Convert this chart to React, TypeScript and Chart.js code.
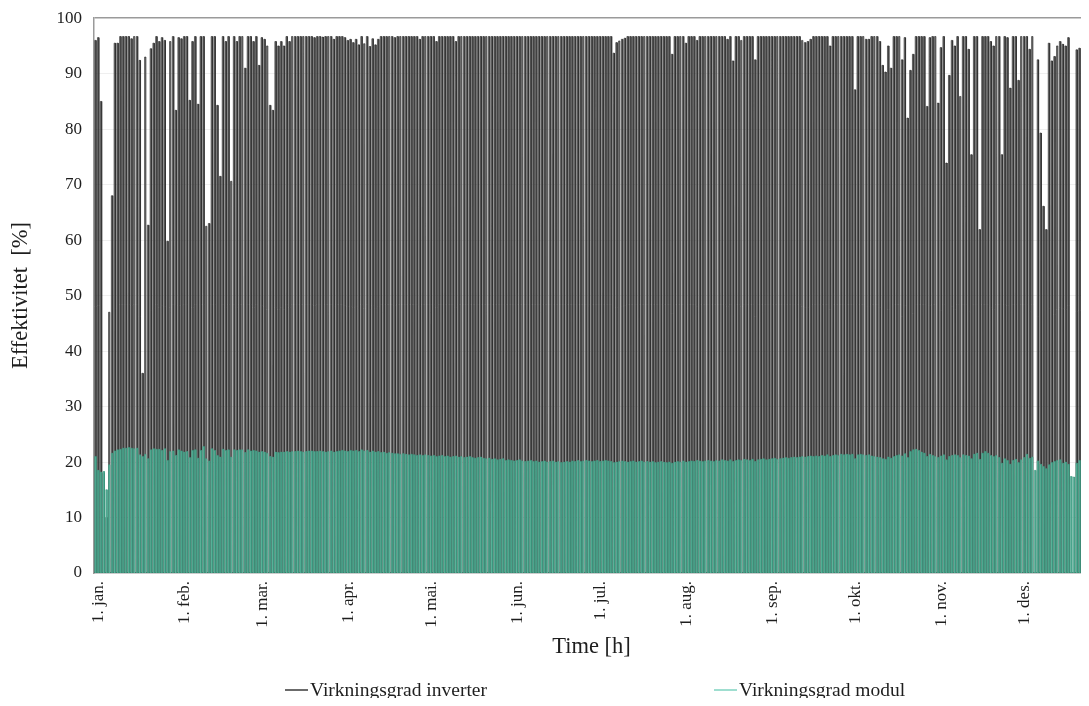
import React, { useEffect, useRef } from "react";
import { Chart, registerables } from "chart.js";

Chart.register(...registerables);

const FONT = "'Liberation Serif', 'Times New Roman', serif";

const MONTH_LABELS = [
  "1. jan.", "1. feb.", "1. mar.", "1. apr.", "1. mai.", "1. jun.",
  "1. jul.", "1. aug.", "1. sep.", "1. okt.", "1. nov.", "1. des.",
];
const MONTH_START_HOURS = [0, 744, 1416, 2160, 2880, 3624, 4344, 5088, 5832, 6552, 7296, 8016];
const Y_TICKS = [0, 10, 20, 30, 40, 50, 60, 70, 80, 90, 100];
const X_MAX_HOURS = 8615;

// hour-of-day at which production starts / reaches peak / leaves peak / stops
const DAY_PROFILE_HOURS = [5, 6, 18, 19];

const SERIES_NAMES = ["Virkningsgrad inverter", "Virkningsgrad modul"];

// daily peak efficiency of the inverter [%], 1 jan .. 31 des
const INVERTER_DAILY = [
  96.0, 96.5, 85.0, 18.0, 10.0, 47.0, 68.0, 95.5, 95.5, 96.7,
  96.7, 96.7, 96.7, 96.3, 96.7, 96.7, 92.4, 36.0, 93.0, 62.7,
  94.5, 95.5, 96.7, 95.8, 96.5, 96.0, 59.8, 95.8, 96.7, 83.4,
  96.5, 96.3, 96.7, 96.7, 85.2, 95.8, 96.7, 84.5, 96.7, 96.7,
  62.5, 63.0, 96.7, 96.7, 84.3, 71.5, 96.7, 95.8, 96.7, 70.6,
  96.7, 95.8, 96.7, 96.7, 91.0, 96.7, 96.7, 95.8, 96.7, 91.5,
  96.5, 96.2, 95.0, 84.3, 83.4, 95.8, 95.0, 95.8, 95.0, 96.7,
  95.8, 96.7, 96.7, 96.7, 96.7, 96.7, 96.7, 96.7, 96.7, 96.5,
  96.7, 96.7, 96.6, 96.7, 96.7, 96.7, 96.2, 96.7, 96.7, 96.7,
  96.5, 96.0, 96.2, 95.6, 96.2, 95.2, 96.7, 95.4, 96.7, 94.9,
  96.3, 95.2, 96.2, 96.7, 96.7, 96.7, 96.7, 96.7, 96.5, 96.7,
  96.7, 96.7, 96.7, 96.7, 96.7, 96.7, 96.7, 96.2, 96.7, 96.7,
  96.7, 96.7, 96.7, 95.8, 96.7, 96.7, 96.7, 96.7, 96.7, 96.7,
  95.8, 96.7, 96.7, 96.7, 96.7, 96.7, 96.7, 96.7, 96.7, 96.7,
  96.7, 96.7, 96.7, 96.7, 96.7, 96.7, 96.7, 96.7, 96.7, 96.7,
  96.7, 96.7, 96.7, 96.7, 96.7, 96.7, 96.7, 96.7, 96.7, 96.7,
  96.7, 96.7, 96.7, 96.7, 96.7, 96.7, 96.7, 96.7, 96.7, 96.7,
  96.7, 96.7, 96.7, 96.7, 96.7, 96.7, 96.7, 96.7, 96.7, 96.7,
  96.7, 96.7, 96.7, 96.7, 96.7, 96.7, 96.7, 93.7, 95.6, 95.9,
  96.2, 96.4, 96.7, 96.7, 96.7, 96.7, 96.7, 96.7, 96.7, 96.7,
  96.7, 96.7, 96.7, 96.7, 96.7, 96.7, 96.7, 96.7, 93.5, 96.7,
  96.7, 96.7, 96.7, 95.5, 96.7, 96.7, 96.7, 96.0, 96.7, 96.7,
  96.7, 96.7, 96.7, 96.7, 96.7, 96.7, 96.7, 96.7, 96.2, 96.7,
  92.3, 96.7, 96.7, 96.0, 96.7, 96.7, 96.7, 96.7, 92.5, 96.7,
  96.7, 96.7, 96.7, 96.7, 96.7, 96.7, 96.7, 96.7, 96.7, 96.7,
  96.7, 96.7, 96.7, 96.7, 96.7, 96.0, 95.6, 95.8, 96.2, 96.7,
  96.7, 96.7, 96.7, 96.7, 96.7, 95.0, 96.7, 96.7, 96.7, 96.7,
  96.7, 96.7, 96.7, 96.7, 87.1, 96.7, 96.7, 96.7, 96.2, 96.2,
  96.7, 96.7, 96.7, 95.8, 91.5, 90.3, 95.0, 91.0, 96.7, 96.7,
  96.7, 92.5, 96.5, 82.0, 90.6, 93.5, 96.7, 96.7, 96.7, 96.7,
  84.1, 96.5, 96.7, 96.7, 84.7, 94.7, 96.7, 73.9, 89.7, 96.0,
  95.0, 96.7, 85.9, 96.7, 96.7, 94.4, 75.4, 96.7, 96.7, 61.9,
  96.7, 96.7, 96.7, 95.8, 95.0, 96.7, 96.7, 75.4, 96.7, 96.5,
  87.4, 96.7, 96.7, 88.8, 96.7, 96.7, 96.7, 94.4, 96.7, 0.0,
  92.5, 79.3, 66.1, 61.9, 95.5, 92.3, 93.1, 95.0, 95.8, 95.3,
  95.0, 96.5, 0.0, 0.0, 94.3, 94.6, 95.5, 96.0, 44.0, 60.0,
  90.0, 95.0, 96.0, 80.0, 95.0,
];

// daily peak efficiency of the PV module [%]
const MODULE_DAILY = [
  21.0, 18.5, 18.2, 18.3, 15.0, 19.5, 21.6, 22.0, 22.2, 22.3,
  22.5, 22.5, 22.6, 22.5, 22.4, 22.5, 21.3, 21.0, 21.4, 20.6,
  22.2, 22.4, 22.3, 22.3, 22.1, 22.4, 20.3, 21.9, 22.0, 21.2,
  22.2, 22.0, 21.8, 21.9, 20.8, 22.1, 22.2, 20.7, 22.1, 22.8,
  20.6, 20.2, 22.4, 22.1, 21.2, 20.9, 22.3, 22.1, 22.2, 20.9,
  22.2, 22.1, 22.2, 22.2, 21.7, 22.2, 22.0, 22.1, 22.0, 21.8,
  21.9, 21.8, 21.6, 21.0, 20.9, 21.8, 21.7, 21.8, 21.8, 21.9,
  21.8, 21.9, 21.9, 22.0, 21.9, 21.8, 21.9, 22.0, 22.0, 21.9,
  21.9, 22.0, 21.9, 21.8, 21.9, 22.0, 21.8, 21.9, 22.0, 22.1,
  22.0, 21.9, 22.1, 22.0, 22.1, 21.9, 22.2, 22.0, 22.1, 21.8,
  22.0, 21.8, 21.9, 21.7, 21.8, 21.6, 21.7, 21.6, 21.5, 21.5,
  21.4, 21.5, 21.4, 21.3, 21.4, 21.3, 21.2, 21.3, 21.2, 21.3,
  21.2, 21.1, 21.2, 21.0, 21.1, 21.2, 21.0, 21.1, 20.9, 21.0,
  21.1, 20.9, 21.0, 20.8, 20.9, 21.0, 20.8, 20.7, 20.8, 20.9,
  20.7, 20.6, 20.7, 20.5, 20.6, 20.4, 20.5, 20.6, 20.3, 20.4,
  20.3, 20.2, 20.3, 20.4, 20.2, 20.1, 20.2, 20.3, 20.1, 20.2,
  20.0, 20.1, 20.2, 20.0, 20.1, 20.2, 20.0, 20.1, 19.9, 20.0,
  20.1, 20.0, 20.2, 20.1, 20.3, 20.1, 20.2, 20.3, 20.2, 20.1,
  20.2, 20.3, 20.1, 20.2, 20.3, 20.2, 20.1, 19.9, 20.0, 20.1,
  20.2, 20.1, 20.0, 20.1, 20.2, 20.0, 20.1, 20.2, 20.0, 20.1,
  20.0, 20.1, 19.9, 20.0, 20.1, 20.0, 19.9, 20.0, 19.8, 20.0,
  20.1, 20.0, 20.2, 20.0, 20.1, 20.2, 20.1, 20.3, 20.2, 20.1,
  20.2, 20.3, 20.2, 20.1, 20.3, 20.2, 20.4, 20.3, 20.2, 20.4,
  20.1, 20.3, 20.4, 20.3, 20.5, 20.4, 20.3, 20.5, 20.1, 20.4,
  20.5, 20.6, 20.4, 20.5, 20.6, 20.7, 20.5, 20.6, 20.7, 20.8,
  20.7, 20.8, 20.9, 20.8, 20.9, 21.0, 20.9, 21.0, 21.1, 21.0,
  21.1, 21.0, 21.2, 21.1, 21.3, 21.0, 21.2, 21.3, 21.2, 21.4,
  21.3, 21.4, 21.3, 21.4, 20.6, 21.3, 21.4, 21.3, 21.2, 21.3,
  21.1, 21.0, 20.9, 20.8, 20.6, 20.5, 20.9, 20.7, 21.0, 21.2,
  21.3, 21.1, 21.5, 20.8, 21.9, 22.2, 22.3, 22.1, 21.8, 21.6,
  21.0, 21.4, 21.2, 21.0, 20.8, 21.1, 21.3, 20.4, 21.0, 21.2,
  21.3, 21.2, 20.8, 21.3, 21.2, 21.1, 20.6, 21.4, 21.6, 20.5,
  21.6, 21.9, 21.6, 21.2, 21.0, 21.2, 20.8, 19.8, 20.6, 20.3,
  19.6, 20.3, 20.5, 19.9, 20.4, 20.8, 21.4, 20.7, 20.9, 18.5,
  20.2, 19.6, 19.2, 18.8, 19.5, 19.9, 20.1, 20.3, 20.4, 19.8,
  20.0, 19.6, 17.4, 17.3, 19.8, 20.3, 20.5, 20.2, 17.0, 18.5,
  19.8, 20.2, 20.4, 19.0, 20.0,
];

const COLORS = {
  inverterLine: "#262626",
  inverterFill: "#747474",
  moduleLine: "#3a9880",
  moduleFill: "#66bca4",
  legendInverter: "#3a3a3a",
  legendModule: "#7fd3c1",
  axis: "#9a9a9a",
  grid: "#efefef",
  text: "#1e1e1e",
};

function dailyToHourly(peaks: number[]) {
  const [rise, on, off, set] = DAY_PROFILE_HOURS;
  const pts: { x: number; y: number }[] = [];
  peaks.forEach((p, d) => {
    const h = d * 24;
    pts.push({ x: h + rise, y: 0 }, { x: h + on, y: p }, { x: h + off, y: p }, { x: h + set, y: 0 });
  });
  return pts;
}

const legendPlugin = {
  id: "customLegend",
  afterDraw(chart: any) {
    const ctx = chart.ctx;
    ctx.save();
    ctx.font = `19.5px ${FONT}`;
    ctx.textBaseline = "middle";
    const y = 682;
    const items = [
      { x: 277, color: COLORS.legendInverter, text: SERIES_NAMES[0] },
      { x: 706, color: COLORS.legendModule, text: SERIES_NAMES[1] },
    ];
    items.forEach((it) => {
      ctx.strokeStyle = it.color;
      ctx.lineWidth = 1.5;
      ctx.beginPath();
      ctx.moveTo(it.x, y);
      ctx.lineTo(it.x + 23, y);
      ctx.stroke();
      ctx.fillStyle = COLORS.text;
      ctx.fillText(it.text, it.x + 25, y + 1);
    });
    ctx.restore();
  },
};

export default function App() {
  const ref = useRef<HTMLCanvasElement | null>(null);

  useEffect(() => {
    document.documentElement.style.overflow = "hidden";
    document.body.style.overflow = "hidden";
    if (!ref.current) return;
    const chart = new Chart(ref.current, {
      type: "line",
      data: {
        datasets: [
          {
            label: SERIES_NAMES[1],
            data: dailyToHourly(MODULE_DAILY),
            borderColor: COLORS.moduleLine,
            backgroundColor: COLORS.moduleFill,
            borderWidth: 0.6,
            fill: "origin",
            pointRadius: 0,
            tension: 0,
            order: 0,
          },
          {
            label: SERIES_NAMES[0],
            data: dailyToHourly(INVERTER_DAILY),
            borderColor: COLORS.inverterLine,
            backgroundColor: COLORS.inverterFill,
            borderWidth: 0.6,
            fill: "origin",
            pointRadius: 0,
            tension: 0,
            order: 1,
          },
        ],
      },
      options: {
        animation: false,
        responsive: false,
        maintainAspectRatio: false,
        layout: { padding: { top: 0, right: 0, bottom: 37, left: 0 } },
        plugins: {
          legend: { display: false },
          tooltip: { enabled: false },
        },
        scales: {
          x: {
            type: "linear",
            min: 0,
            max: X_MAX_HOURS,
            afterBuildTicks: (scale: any) => {
              scale.ticks = MONTH_START_HOURS.map((v) => ({ value: v }));
            },
            afterFit: (scale: any) => {
              scale.height = 88;
            },
            ticks: {
              autoSkip: false,
              minRotation: 90,
              maxRotation: 90,
              padding: 8,
              labelOffset: 5,
              color: COLORS.text,
              font: { family: FONT, size: 17 },
              callback: (value: any) => {
                const i = MONTH_START_HOURS.indexOf(Number(value));
                return i >= 0 ? MONTH_LABELS[i] : "";
              },
            },
            grid: { display: false, drawTicks: false },
            border: { display: true, color: COLORS.axis, width: 1.5 },
            title: {
              display: true,
              text: "Time [h]",
              color: COLORS.text,
              font: { family: FONT, size: 22.5 },
              padding: { top: 0, bottom: 0 },
            },
          },
          y: {
            min: 0,
            max: 100,
            afterBuildTicks: (scale: any) => {
              scale.ticks = Y_TICKS.map((v) => ({ value: v }));
            },
            afterFit: (scale: any) => {
              scale.width = 86;
            },
            ticks: {
              padding: 0,
              color: COLORS.text,
              font: { family: FONT, size: 17 },
            },
            grid: {
              drawTicks: true,
              tickLength: 12,
              tickColor: "rgba(0,0,0,0)",
              color: (c: any) =>
                c.tick && c.tick.value === 100 ? COLORS.axis : c.tick && c.tick.value === 0 ? "rgba(0,0,0,0)" : COLORS.grid,
              lineWidth: (c: any) => (c.tick && c.tick.value === 100 ? 1.5 : 1),
            },
            border: { display: true, color: COLORS.axis, width: 1.5 },
            title: {
              display: true,
              text: "Effektivitet  [%]",
              color: COLORS.text,
              font: { family: FONT, size: 22.5 },
              padding: { top: 0, bottom: 0 },
            },
          },
        },
      },
      plugins: [legendPlugin],
    } as any);
    return () => chart.destroy();
  }, []);

  return (
    <div style={{ width: 1081, height: 690 }}>
      <canvas ref={ref} width={1081} height={690} style={{ display: "block", width: 1081, height: 690 }} />
    </div>
  );
}
